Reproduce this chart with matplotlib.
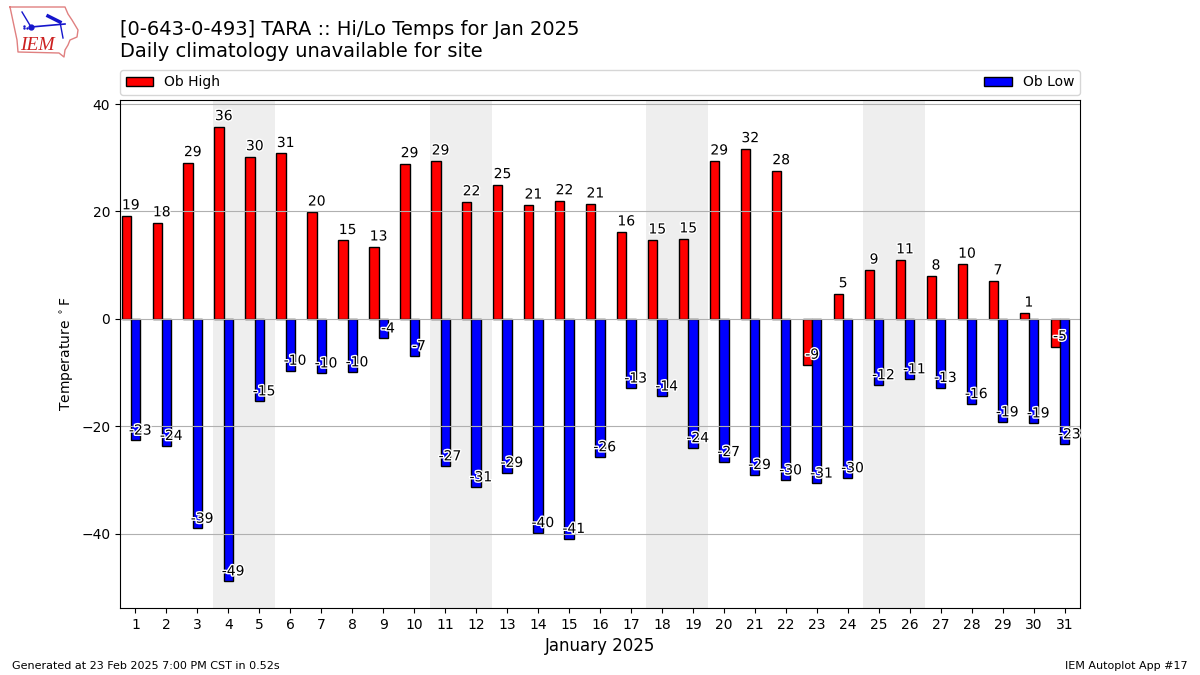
import matplotlib
matplotlib.use("Agg")
import matplotlib.pyplot as plt
import matplotlib.patheffects as pe
import numpy as np

days = list(range(1, 32))
highs = [19.2, 17.9, 29.1, 35.8, 30.2, 30.8, 19.9, 14.6, 13.4, 28.9, 29.4, 21.8, 25.0, 21.2, 22.0, 21.4,
         16.2, 14.7, 14.9, 29.4, 31.7, 27.6, -8.6, 4.7, 9.1, 11.0, 8.0, 10.2, 7.1, 1.1, -5.2]
lows = [-22.6, -23.6, -39.0, -48.8, -15.3, -9.6, -10.1, -9.9, -3.6, -6.9, -27.4, -31.3, -28.6, -39.8, -40.9, -25.7,
        -12.9, -14.4, -24.0, -26.6, -29.0, -30.0, -30.6, -29.6, -12.3, -11.2, -12.8, -15.8, -19.2, -19.4, -23.3]
weekends = [(4, 5), (11, 12), (18, 19), (25, 26)]
yticks = [-40, -20, 0, 20, 40]
title = "[0-643-0-493] TARA :: Hi/Lo Temps for Jan 2025\nDaily climatology unavailable for site"

fig = plt.figure(figsize=(12, 6.75), dpi=100)
ax = fig.add_axes([120 / 1200, 1 - 608 / 675, 960 / 1200, 508 / 675])

for a, b in weekends:
    ax.axvspan(a - 0.5, b + 0.5, color="#eeeeee", lw=0, zorder=0.5)

x = np.array(days)
ax.bar(x - 0.3, highs, width=0.3, color="red", edgecolor="black", linewidth=1, label="Ob High", zorder=1)
ax.bar(x, lows, width=0.3, color="blue", edgecolor="black", linewidth=1, label="Ob Low", zorder=1)

stroke = [pe.withStroke(linewidth=2, foreground="white")]
for d, h, l in zip(days, highs, lows):
    ax.annotate(str(int(round(h))), (d - 0.15, h), xytext=(0, 2.5), textcoords="offset points",
                ha="center", va="bottom", fontsize=10, path_effects=stroke, zorder=5)
    ax.annotate(str(int(round(l))), (d + 0.15, l), xytext=(0, 2), textcoords="offset points",
                ha="center", va="bottom", fontsize=10, path_effects=stroke, zorder=5)

ax.set_xlim(0.5, 31.5)
ax.set_ylim(-53.8, 40.75)
ax.set_xticks(days)
ax.set_yticks(yticks)
ax.yaxis.grid(True, color="#b0b0b0", linewidth=0.8)
ax.tick_params(labelsize=10)
ax.set_xlabel("January 2025", fontsize=12)
ax.set_ylabel(r"Temperature $^\circ$F", fontsize=10)

ax.legend(loc="lower left", bbox_to_anchor=(0, 1.0098, 1, 0.05), mode="expand", ncol=2, fontsize=10,
          borderaxespad=0, frameon=True)

fig.text(120 / 1200, 1 - 61 / 675, title, fontsize=14, ha="left", va="bottom", linespacing=1.2)
fig.text(12 / 1200, 1 - 666 / 675, "Generated at 23 Feb 2025 7:00 PM CST in 0.52s", fontsize=8, ha="left", va="center")
fig.text(1188 / 1200, 1 - 666 / 675, "IEM Autoplot App #17", fontsize=8, ha="right", va="center")

# small logo sketch
logo = fig.add_axes([8 / 1200, 1 - 60 / 675, 72 / 1200, 54 / 675])
logo.set_xlim(8, 80); logo.set_ylim(60, 6); logo.axis("off")
ox = [10, 65, 68, 72, 78, 77, 70, 68, 65, 64, 59, 18, 17, 10]
oy = [7, 7, 14, 20, 30, 37, 40, 45, 50, 57, 53, 52, 40, 7]
logo.plot(ox, oy, color="#e08080", lw=1)
logo.plot([31, 65], [27, 24], color="#1515cc", lw=1.2)
logo.plot([22, 31], [12, 27], color="#1515cc", lw=1)
logo.plot([31], [27], "o", color="#1515cc", ms=3.5)
logo.plot([48, 60], [16, 22], color="#1515cc", lw=2.5)
logo.plot([60, 63], [22, 38], color="#1515cc", lw=1)
logo.plot([24, 27, 24], [28, 28, 26], ".", color="#1515cc", ms=1.5)
logo.text(37, 45, "IEM", color="#cc2020", fontsize=14, family="Liberation Serif", style="italic", ha="center", va="center")

fig.savefig("out.png", dpi=100)
